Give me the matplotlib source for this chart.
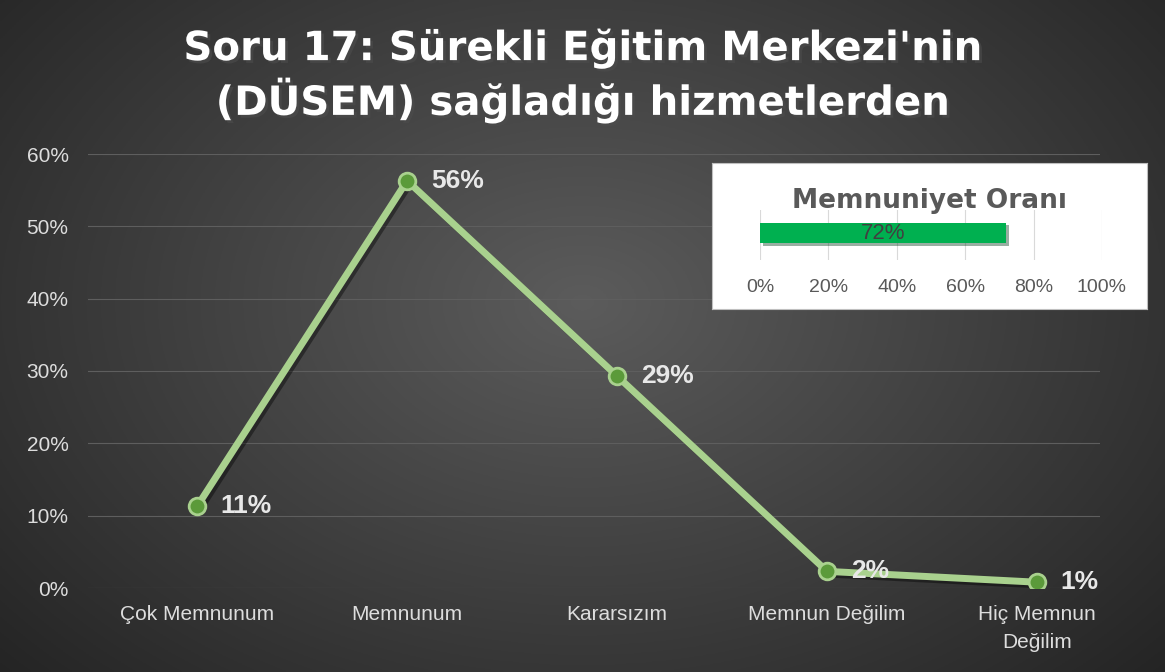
import numpy as np
import matplotlib.pyplot as plt
import matplotlib.patheffects as pe

plt.rcParams["font.family"] = ["Liberation Sans", "DejaVu Sans"]

categories = ["Çok Memnunum", "Memnunum", "Kararsızım", "Memnun Değilim", "Hiç Memnun\nDeğilim"]
values = [11.3, 56.3, 29.3, 2.3, 0.8]
labels = ["11%", "56%", "29%", "2%", "1%"]
y_ticks = [0, 10, 20, 30, 40, 50, 60]
satisfaction = 72
sat_ticks = [0, 20, 40, 60, 80, 100]

fig = plt.figure(figsize=(11.65, 6.72), dpi=100)

# background radial gradient
bg = fig.add_axes([0, 0, 1, 1], zorder=0)
yy, xx = np.mgrid[0:1:300j, 0:1:500j]
r = np.sqrt(((xx - 0.5) / 0.75) ** 2 + ((yy - 0.45) / 0.9) ** 2)
shade = 0.36 - 0.24 * np.clip(r, 0, 1)
bg.imshow(np.dstack([shade, shade, shade]), aspect="auto", extent=[0, 1, 0, 1])
bg.set_axis_off()

ax = fig.add_axes([88 / 1165, 1 - 588 / 672, 1012 / 1165, 434 / 672], zorder=1)
ax.set_facecolor("none")
x = np.arange(len(categories))
ax.plot(x, values, color="#A9D18E", lw=5, zorder=3, solid_capstyle="round",
        path_effects=[pe.SimpleLineShadow(offset=(2, -2), alpha=0.4), pe.Normal()])
ax.plot(x, values, ls="none", marker="o", ms=12, mfc="#5B9A3A", mec="#A9D18E", mew=2, zorder=4)
for xi, v, lab in zip(x, values, labels):
    ax.annotate(lab, (xi, v), xytext=(17, 0), textcoords="offset points", va="center", ha="left",
                color="#E8E8E8", fontsize=19, fontweight="bold", zorder=5)

ax.set_xlim(-0.52, 4.3)
ax.set_ylim(0, 60)
ax.set_yticks(y_ticks)
ax.set_yticklabels([f"{t}%" for t in y_ticks])
ax.set_xticks(x)
ax.set_xticklabels(categories, linespacing=1.6)
ax.tick_params(colors="#DDDDDD", labelsize=15, length=0)
ax.tick_params(axis="x", pad=12)
ax.tick_params(axis="y", pad=14)
ax.grid(axis="y", color="#5E5E5E", lw=0.8)
for s in ax.spines.values():
    s.set_visible(False)

fig.text(0.5, 1 - 76 / 672, "Soru 17: Sürekli Eğitim Merkezi'nin\n(DÜSEM) sağladığı hizmetlerden",
         ha="center", va="center", color="white", fontsize=29, fontweight="bold",
         linespacing=1.2, family="DejaVu Sans",
         path_effects=[pe.withSimplePatchShadow(offset=(2, -2), alpha=0.6)])

# inset box
box = fig.add_axes([712 / 1165, 1 - 309 / 672, 435 / 1165, 146 / 672], zorder=2)
box.set_facecolor("white")
box.set_xticks([])
box.set_yticks([])
for s in box.spines.values():
    s.set_color("#BFBFBF")
box.text(0.5, 0.74, "Memnuniyet Oranı", transform=box.transAxes, ha="center", va="center",
         fontsize=19, fontweight="bold", color="#595959", family="DejaVu Sans")

ins = fig.add_axes([760 / 1165, 1 - 260 / 672, 342 / 1165, 50 / 672], zorder=3)
ins.set_facecolor("none")
ins.barh([0], [satisfaction], height=0.5, color="#00B050",
         path_effects=[pe.withSimplePatchShadow(offset=(2, -2), alpha=0.4)])
ins.text(satisfaction / 2, -0.02, f"{satisfaction}%", ha="center", va="center", fontsize=16, color="#404040")
ins.set_xlim(0, 100)
ins.set_ylim(-0.65, 0.55)
ins.set_xticks(sat_ticks)
ins.set_xticklabels([f"{t}%" for t in sat_ticks])
ins.set_yticks([])
ins.tick_params(axis="x", colors="#595959", labelsize=14, length=0, pad=14)
ins.grid(axis="x", color="#D9D9D9", lw=0.8)
ins.set_axisbelow(True)
for s in ins.spines.values():
    s.set_visible(False)

fig.savefig("out.png", dpi=100)
